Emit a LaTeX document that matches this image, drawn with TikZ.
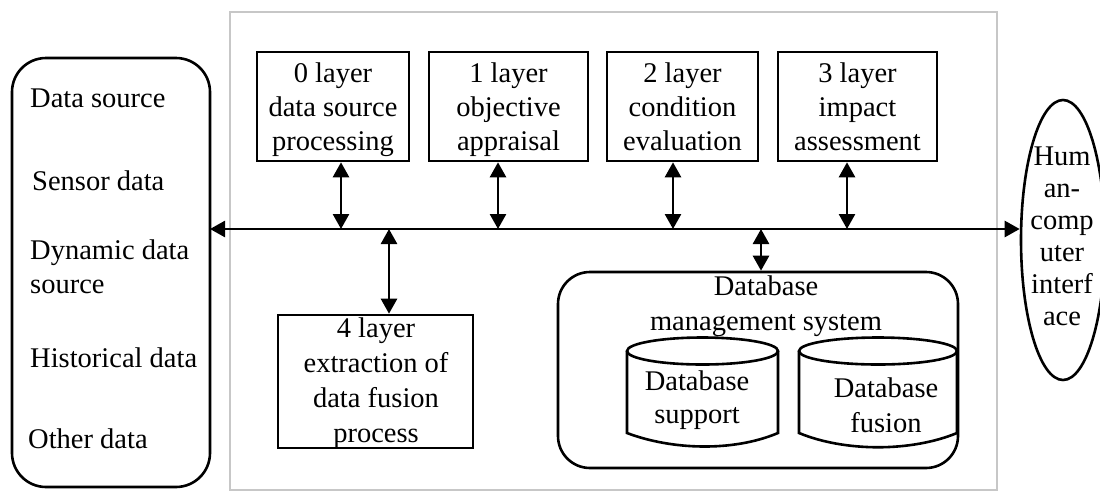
\documentclass[tikz,border=0pt]{standalone}
\usepackage{fontspec}
\setmainfont{Liberation Serif}
\usetikzlibrary{arrows.meta,shapes.geometric}
\begin{document}
\begin{tikzpicture}[x=1pt,y=-1pt,
  lw/.style={line width=2.6pt},
  txt/.style={inner sep=0pt,anchor=base,align=center,font=\fontsize{28.5}{34}\selectfont},
  ltxt/.style={inner sep=0pt,anchor=base west,align=left,font=\fontsize{28.5}{34}\selectfont},
  layerbox/.style={draw,lw,rectangle,inner sep=0pt},
  biarrow/.style={lw,{Triangle[length=15pt,width=16pt]}-{Triangle[length=15pt,width=16pt]}},
  cyl/.style={draw,lw}
]
\useasboundingbox (0,0) rectangle (1100,491);
% outer frame
\draw[line width=2.4pt,color=black!22] (230,12) rectangle (997,490);
% left data source box
\draw[lw,rounded corners=34pt] (12,58) rectangle (210,487);
\coordinate (srcE) at (210,229);
\node[ltxt] (t1) at (30,107) {Data source};
\node[ltxt] (t2) at (32,190) {Sensor data};
\node[ltxt] (t3) at (30,293) {Dynamic data\\source};
\node[ltxt] (t4) at (30,367) {Historical data};
\node[ltxt] (t5) at (28,448) {Other data};
% HCI ellipse
\node[draw,lw,ellipse,minimum width=84pt,minimum height=280pt,inner sep=0pt] (hci) at (1063,240) {};
\node[txt,font=\fontsize{28.5}{32}\selectfont] (hcit) at (1062,325) {Hum\\an-\\comp\\uter\\interf\\ace};
% top layer boxes
\node[layerbox,minimum width=152pt,minimum height=109pt] (b0) at (333,106.5) {};
\node[layerbox,minimum width=159pt,minimum height=109pt] (b1) at (508.5,106.5) {};
\node[layerbox,minimum width=151pt,minimum height=109pt] (b2) at (682.5,106.5) {};
\node[layerbox,minimum width=159pt,minimum height=109pt] (b3) at (857.5,106.5) {};
\node[txt] (b0t) at (333,150) {0 layer\\data source\\processing};
\node[txt] (b1t) at (508.5,150) {1 layer\\objective\\appraisal};
\node[txt] (b2t) at (682.5,150) {2 layer\\condition\\evaluation};
\node[txt] (b3t) at (857.5,150) {3 layer\\impact\\assessment};
% layer 4 box
\node[layerbox,minimum width=195pt,minimum height=133pt] (b4) at (375.5,381.5) {};
\node[txt,font=\fontsize{28.5}{34.7}\selectfont] (b4t) at (376,442) {4 layer\\extraction of\\data fusion\\process};
% database management system
\node[draw,lw,rounded corners=32pt,minimum width=400pt,minimum height=196pt,inner sep=0pt] (dbms) at (758,370) {};
\node[txt,font=\fontsize{28.5}{35}\selectfont] (dbmst) at (766,330) {Database\\management system};
% cylinders
\draw[cyl] (627,351) -- (627,433) .. controls (672,450) and (733,452) .. (778,433) -- (778,351);
\draw[cyl] (702.5,351) ellipse [x radius=75.5pt,y radius=13.5pt];
\draw[cyl] (799,351) -- (799,433) .. controls (845,452) and (911,452) .. (957,433) -- (957,351);
\draw[cyl] (878,351) ellipse [x radius=79pt,y radius=13.5pt];
\node[txt,font=\fontsize{28.5}{33}\selectfont] (c1t) at (697,423) {Database\\support};
\node[txt,font=\fontsize{28.5}{35}\selectfont] (c2t) at (886,432) {Database\\fusion};
% bus
\draw[biarrow] (srcE) -- (srcE -| hci.west);
\draw[biarrow] (b0.south -| 341,0) -- (341,229);
\draw[biarrow] (b1.south -| 498,0) -- (498,229);
\draw[biarrow] (b2.south -| 673,0) -- (673,229);
\draw[biarrow] (b3.south -| 847,0) -- (847,229);
\draw[biarrow] (389,229) -- (b4.north -| 389,0);
\draw[biarrow] (761,229) -- (dbms.north -| 761,0);
\end{tikzpicture}
\end{document}
